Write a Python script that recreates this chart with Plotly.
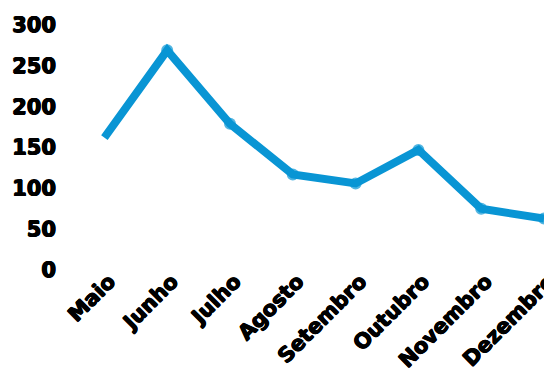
import plotly.graph_objects as go

months = ["Maio", "Junho", "Julho", "Agosto", "Setembro", "Outubro", "Novembro", "Dezembro"]
values = [162, 269, 179, 117, 106, 147, 75, 63]
y_ticks = [0, 50, 100, 150, 200, 250, 300]

FONT = "DejaVu Sans"
color = "#0995D4"
SHADOW = "0.6px 0 0 #000, -0.6px 0 0 #000, 0 0.5px 0 #000, 0 -0.5px 0 #000"

fig = go.Figure()
fig.add_trace(go.Scatter(
    x=months, y=values, mode="lines+markers",
    line=dict(color=color, width=8),
    marker=dict(color=color, size=[0, 12, 12, 12, 12, 12, 12, 12], line=dict(width=0)),
    cliponaxis=True,
))

fig.update_layout(
    width=544, height=371,
    margin=dict(l=73, r=0, t=25, b=101, autoexpand=False),
    paper_bgcolor="white", plot_bgcolor="white",
    showlegend=False,
    font=dict(family=FONT, color="black", size=20, weight="bold"),
)
fig.update_xaxes(
    range=[-0.5, 7.0], tickangle=-45, showgrid=False, zeroline=False,
    showline=False, ticklabelshift=5, ticklabelstandoff=-6, automargin=False,
    tickfont=dict(size=21, family=FONT, weight="bold", shadow=SHADOW),
)
fig.update_yaxes(
    range=[0, 300], tickvals=y_ticks, showgrid=False, zeroline=False,
    showline=False, ticklabelstandoff=16, automargin=False,
    tickfont=dict(size=21, family=FONT, weight="bold", shadow=SHADOW),
)
fig.write_html("out.html")
